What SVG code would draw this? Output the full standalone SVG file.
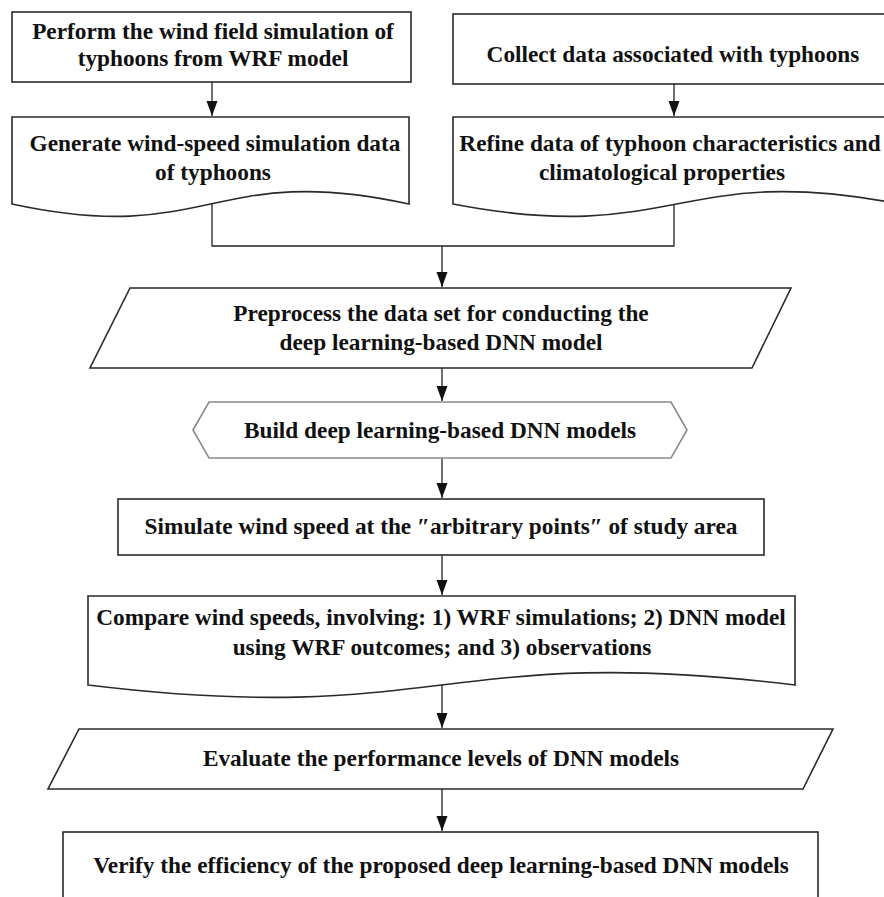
<svg xmlns="http://www.w3.org/2000/svg" width="884" height="897" viewBox="0 0 884 897">
<defs>
<style>
.box{fill:#fff;stroke:#2a2a2a;stroke-width:1.6}
.hex{fill:#fff;stroke:#8a8a8a;stroke-width:1.6}
.t{font-family:"Liberation Serif","Times New Roman",serif;font-weight:bold;font-size:23.3px;fill:#111;text-anchor:middle}
.c{fill:none;stroke:#222;stroke-width:1.3}
</style>
<marker id="ah" markerUnits="userSpaceOnUse" markerWidth="16" markerHeight="12" refX="15" refY="6" orient="auto">
<path d="M0,0.5 L15,6 L0,11.5 Z" fill="#111"/>
</marker>
</defs>
<rect width="884" height="897" fill="#fff"/>
<g id="connectors">
<path class="c" d="M212,82 V116" marker-end="url(#ah)"/>
<path class="c" d="M674,84 V116" marker-end="url(#ah)"/>
<path class="c" d="M212,204 V246 H674 V204"/>
<path class="c" d="M442,246 V287" marker-end="url(#ah)"/>
<path class="c" d="M442,368 V401" marker-end="url(#ah)"/>
<path class="c" d="M442,458 V498" marker-end="url(#ah)"/>
<path class="c" d="M442,555 V595" marker-end="url(#ah)"/>
<path class="c" d="M442,685 V728" marker-end="url(#ah)"/>
<path class="c" d="M442,789 V831" marker-end="url(#ah)"/>
</g>
<g id="n1">
<rect class="box" x="12" y="12" width="399" height="70"/>
<text class="t" x="213" y="39">Perform the wind field simulation of</text>
<text class="t" x="213" y="66">typhoons from WRF model</text>
</g>
<g id="n2">
<path class="box" d="M12,117 H409 V204 C210.5,161 210.5,247 12,204 Z"/>
<text class="t" x="215" y="151">Generate wind-speed simulation data</text>
<text class="t" x="213" y="180">of typhoons</text>
</g>
<g id="n3">
<rect class="box" x="453" y="14" width="447" height="70"/>
<text class="t" x="673" y="62">Collect data associated with typhoons</text>
</g>
<g id="n4">
<path class="box" d="M453,117 H900 V204 C676.5,161 676.5,247 453,204 Z"/>
<text class="t" x="670" y="151">Refine data of typhoon characteristics and</text>
<text class="t" x="662" y="180">climatological properties</text>
</g>
<g id="n5">
<polygon class="box" points="130,288 791,288 752,368 90,368"/>
<text class="t" x="441" y="321">Preprocess the data set for conducting the</text>
<text class="t" x="441" y="350">deep learning-based DNN model</text>
</g>
<g id="n6">
<polygon class="hex" points="193,430 209,402 671,402 687,430 671,458 209,458"/>
<text class="t" x="440" y="438">Build deep learning-based DNN models</text>
</g>
<g id="n7">
<rect class="box" x="118" y="499" width="646" height="56"/>
<text class="t" x="441" y="534">Simulate wind speed at the ″arbitrary points″ of study area</text>
</g>
<g id="n8">
<path class="box" d="M88,596 H795 V685 C441.5,642 441.5,728 88,685 Z"/>
<text class="t" x="441" y="625">Compare wind speeds, involving: 1) WRF simulations; 2) DNN model</text>
<text class="t" x="442" y="655">using WRF outcomes; and 3) observations</text>
</g>
<g id="n9">
<polygon class="box" points="79,729 833,729 803,789 48,789"/>
<text class="t" x="441" y="766">Evaluate the performance levels of DNN models</text>
</g>
<g id="n10">
<rect class="box" x="63" y="832" width="755" height="80"/>
<text class="t" x="441" y="873">Verify the efficiency of the proposed deep learning-based DNN models</text>
</g>
</svg>
